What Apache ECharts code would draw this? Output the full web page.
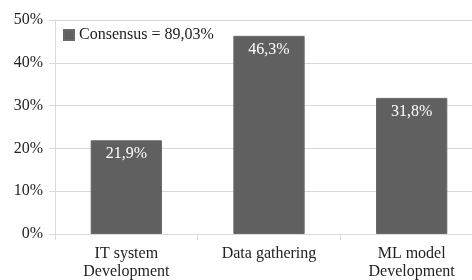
<!DOCTYPE html>
<html>
<head>
<meta charset="utf-8">
<script src="https://cdn.jsdelivr.net/npm/echarts@6/dist/echarts.min.js"></script>
<style>
  html, body { margin: 0; padding: 0; background: #fff; }
  #chart { width: 472px; height: 280px; }
</style>
</head>
<body>
<div id="chart"></div>
<script>
// data
const categories = ["IT system\nDevelopment", "Data gathering", "ML model\nDevelopment"];
const values = [21.9, 46.3, 31.8];
const seriesName = "Consensus = 89,03%";
const yTicks = [0, 10, 20, 30, 40, 50];

const serifFont = "Liberation Serif";
const gridColor = "#d9d9d9";

const mychart = echarts.init(document.getElementById("chart"));
mychart.setOption({
  animation: false,
  legend: {
    left: 58,
    top: 22,
    itemWidth: 10,
    itemHeight: 10,
    itemGap: 4,
    textStyle: { fontFamily: serifFont, fontSize: 16, color: "#222" },
    data: [{ name: seriesName, icon: "rect" }],
  },
  grid: {
    left: 55,
    top: 20,
    bottom: 46,
    width: 428, // plot runs past the right edge of the picture
    outerBoundsMode: "none",
  },
  xAxis: {
    type: "category",
    data: categories,
    axisLine: { lineStyle: { color: gridColor, width: 1 } },
    axisTick: { show: true, length: 6, lineStyle: { color: gridColor } },
    axisLabel: {
      fontFamily: serifFont,
      fontSize: 16,
      color: "#222",
      margin: 11,
      lineHeight: 18,
      interval: 0,
    },
  },
  yAxis: {
    type: "value",
    min: yTicks[0],
    max: yTicks[yTicks.length - 1],
    interval: 10,
    axisLine: { show: true, lineStyle: { color: gridColor, width: 1 } },
    axisTick: { show: true, length: 6, lineStyle: { color: gridColor } },
    splitLine: { lineStyle: { color: gridColor, width: 1 } },
    axisLabel: {
      fontFamily: serifFont,
      fontSize: 16,
      color: "#222",
      margin: 12,
      formatter: "{value}%",
    },
  },
  series: [
    {
      name: seriesName,
      type: "bar",
      data: values,
      barWidth: "50%",
      itemStyle: { color: "#606060", borderColor: "#6a6a6a", borderWidth: 1 },
      label: {
        show: true,
        position: "insideTop",
        distance: 6,
        fontFamily: serifFont,
        fontSize: 16,
        color: "#fff",
        formatter: (p) => String(p.value).replace(".", ",") + "%",
      },
    },
  ],
});
</script>
</body>
</html>
